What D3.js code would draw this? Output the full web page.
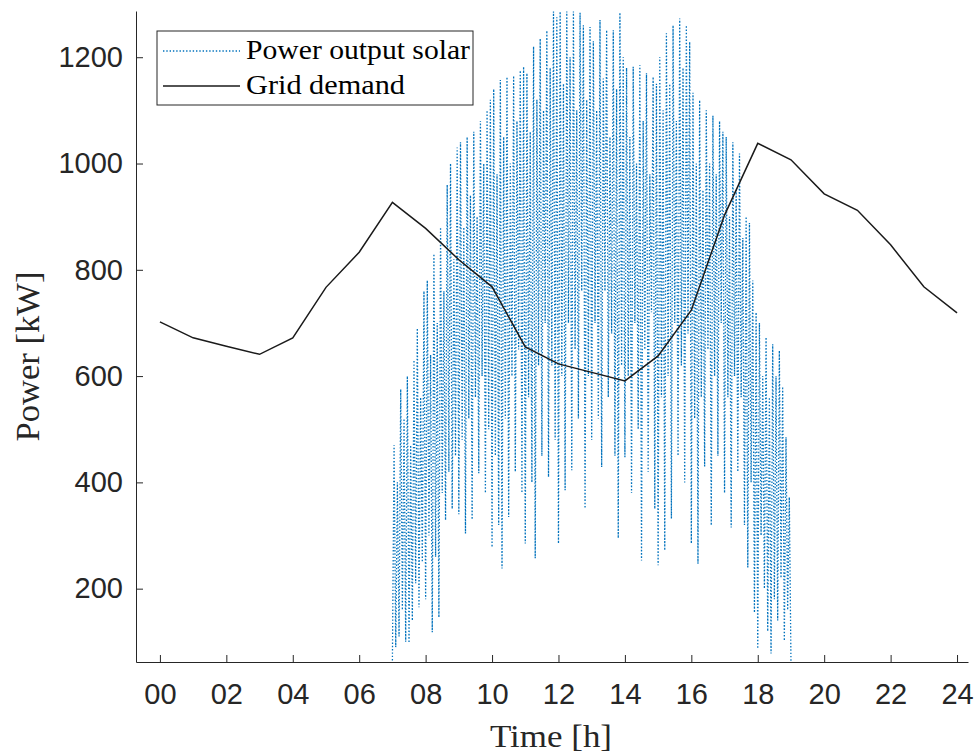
<!DOCTYPE html>
<html>
<head>
<meta charset="utf-8">
<script src="https://cdn.jsdelivr.net/npm/d3@7"></script>
<style>
    body { margin: 0; background: #ffffff; }
    svg { display: block; }
</style>
</head>
<body>
<svg id="chart" width="978" height="754"></svg>
<script>
// Grid demand, one value per hour from 00 to 24
const demandHours = [0, 1, 2, 3, 4, 5, 6, 7, 8, 9, 10, 11, 12, 13, 14, 15, 16, 17, 18, 19, 20, 21, 22, 23, 24];
const demandKW = [702, 672, 656, 641, 672, 767, 833, 927, 878, 819, 768, 655, 623, 607, 591, 638, 724, 903, 1038, 1007, 943, 912, 847, 768, 719];

// Solar output, sampled every 3 minutes from 07:00 to 19:00
const solarStartHour = 7;
const solarStepHours = 0.05;
const solarKW = [
    // 07h
    65, 470, 90, 400, 110, 575, 160, 520, 100, 600, 98, 470, 140, 630, 210, 690, 165, 560, 250, 760,
    // 08h
    180, 780, 300, 640, 118, 830, 260, 700, 146, 880, 380, 760, 329, 960, 420, 1000, 350, 820, 450, 1030,
    // 09h
    340, 1040, 480, 880, 304, 1050, 520, 940, 330, 1060, 560, 900, 417, 1080, 600, 1000, 380, 1100, 500, 1120,
    // 10h
    278, 1140, 450, 980, 320, 1157, 238, 1050, 520, 1163, 335, 1000, 600, 1165, 420, 1080, 650, 1175, 380, 1182,
    // 11h
    285, 1170, 560, 1060, 400, 1220, 257, 1120, 620, 1235, 450, 1100, 700, 1250, 410, 1180, 620, 1286, 480, 1275,
    // 12h
    285, 1286, 600, 1150, 385, 1286, 700, 1200, 423, 1286, 650, 1100, 520, 1284, 760, 1260, 351, 1120, 600, 1257,
    // 13h
    480, 1230, 700, 1100, 520, 1270, 429, 1160, 760, 1251, 560, 1050, 680, 1251, 450, 1140, 295, 1284, 620, 1200,
    // 14h
    447, 1180, 600, 1050, 380, 1182, 700, 1000, 500, 1185, 253, 1080, 650, 1170, 420, 980, 720, 1163, 350, 1150,
    // 15h
    244, 1200, 560, 1100, 272, 1245, 600, 1150, 332, 1260, 700, 1080, 450, 1273, 620, 1180, 400, 1260, 680, 1229,
    // 16h
    285, 1133, 520, 1000, 247, 1119, 560, 950, 430, 1100, 650, 1000, 319, 1090, 600, 980, 450, 1080, 700, 1060,
    // 17h
    380, 1050, 560, 900, 315, 1040, 600, 950, 420, 1019, 560, 860, 320, 900, 240, 888, 400, 780, 155, 720,
    // 18h
    87, 700, 300, 600, 200, 673, 120, 560, 78, 660, 180, 600, 140, 648, 220, 580, 102, 485, 160, 372,
    // 19h
    62
];

const xTicks = [0, 2, 4, 6, 8, 10, 12, 14, 16, 18, 20, 22, 24];
const yTicks = [200, 400, 600, 800, 1000, 1200];

const axisColor = "#262626";
const solarColor = "#0072BD";
const demandColor = "#1a1a1a";
const serifFont = "'Liberation Serif', 'Times New Roman', serif";

let margin = {top: 11, right: 10, bottom: 92, left: 136};
let width = 978;
let height = 754;
let plotRight = width - margin.right;
let plotBottom = height - margin.bottom;

const svg = d3.select("#chart");

const xScale = d3.scaleLinear().domain([-0.72, 24.33]).range([margin.left, plotRight]);
const yScale = d3.scaleLinear().domain([62, 1287]).range([plotBottom, margin.top]);

svg.append("defs").append("clipPath")
    .attr("id", "plot-clip")
    .append("rect")
    .attr("x", margin.left)
    .attr("y", margin.top)
    .attr("width", plotRight - margin.left)
    .attr("height", plotBottom - margin.top);

// Solar output (dotted)
const solarLine = d3.line()
    .x((d, i) => xScale(solarStartHour + i * solarStepHours))
    .y(d => yScale(d));

svg.append("path")
    .datum(solarKW)
    .attr("clip-path", "url(#plot-clip)")
    .attr("fill", "none")
    .attr("stroke", solarColor)
    .attr("stroke-width", 1.3)
    .attr("stroke-dasharray", "1.4,1.9")
    .attr("d", solarLine);

// Grid demand (solid)
const demandLine = d3.line()
    .x((d, i) => xScale(demandHours[i]))
    .y(d => yScale(d));

svg.append("path")
    .datum(demandKW)
    .attr("fill", "none")
    .attr("stroke", demandColor)
    .attr("stroke-width", 1.5)
    .attr("d", demandLine);

// Axes, ticks pointing inward, no box
svg.append("g")
    .attr("transform", `translate(0,${plotBottom})`)
    .call(d3.axisBottom(xScale)
        .tickValues(xTicks)
        .tickFormat(d3.format("02d"))
        .tickSizeInner(-7)
        .tickSizeOuter(0)
        .tickPadding(21));

svg.append("g")
    .attr("transform", `translate(${margin.left},0)`)
    .call(d3.axisLeft(yScale)
        .tickValues(yTicks)
        .tickFormat(d3.format("d"))
        .tickSizeInner(-7)
        .tickSizeOuter(0)
        .tickPadding(13));

svg.selectAll(".domain, .tick line")
    .attr("stroke", axisColor)
    .attr("stroke-width", 1);

svg.selectAll(".tick text")
    .attr("fill", axisColor)
    .style("font-family", "'Liberation Sans', Arial, Helvetica, sans-serif")
    .style("font-size", "29px");

// Axis titles
svg.append("text")
    .attr("x", 551)
    .attr("y", 747)
    .attr("text-anchor", "middle")
    .attr("fill", axisColor)
    .attr("textLength", 122)
    .attr("lengthAdjust", "spacingAndGlyphs")
    .style("font-family", serifFont)
    .style("font-size", "32px")
    .text("Time [h]");

svg.append("text")
    .attr("transform", `translate(39,${(margin.top + plotBottom) / 2 + 20}) rotate(-90)`)
    .attr("text-anchor", "middle")
    .attr("fill", axisColor)
    .attr("textLength", 170)
    .attr("lengthAdjust", "spacingAndGlyphs")
    .style("font-family", serifFont)
    .style("font-size", "33px")
    .text("Power [kW]");

// Legend
const legend = svg.append("g").attr("transform", "translate(157,31)");

legend.append("rect")
    .attr("width", 316)
    .attr("height", 74)
    .attr("fill", "#ffffff")
    .attr("stroke", axisColor)
    .attr("stroke-width", 1);

const legendItems = [
    {label: "Power output solar", color: solarColor, dash: "1.4,1.9", width: 1.3, textWidth: 224},
    {label: "Grid demand", color: demandColor, dash: null, width: 1.5, textWidth: 159}
];

legendItems.forEach((item, i) => {
    let y = 20 + i * 35;
    legend.append("line")
        .attr("x1", 6)
        .attr("x2", 83)
        .attr("y1", y)
        .attr("y2", y)
        .attr("stroke", item.color)
        .attr("stroke-width", item.width)
        .attr("stroke-dasharray", item.dash);
    legend.append("text")
        .attr("x", 89)
        .attr("y", y + 8)
        .attr("fill", "#000000")
        .attr("textLength", item.textWidth)
        .attr("lengthAdjust", "spacingAndGlyphs")
        .style("font-family", serifFont)
        .style("font-size", "27px")
        .text(item.label);
});
</script>
</body>
</html>
